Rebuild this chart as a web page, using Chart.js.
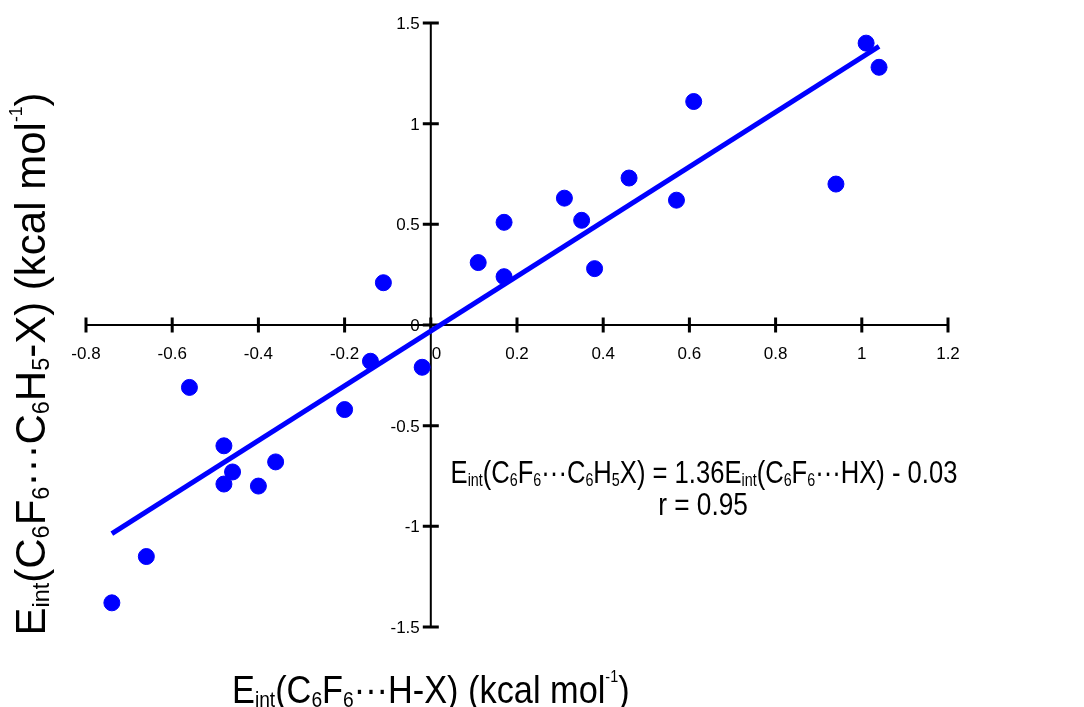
<!DOCTYPE html>
<html>
<head>
<meta charset="utf-8">
<title>Eint C6F6 complexes</title>
<script src="https://cdn.jsdelivr.net/npm/chart.js@4.4.0/dist/chart.umd.min.js"></script>
<style>
  html, body { margin: 0; padding: 0; background: #fff; }
  canvas { display: block; }
</style>
</head>
<body>
<canvas id="eint-chart" width="1084" height="707"></canvas>
<script>
// Interaction energies, kcal/mol: C6F6...H-X (x) against C6F6...C6H5-X (y)
var hxEnergy = [1.01, 1.04, 0.61, 0.94, 0.57, 0.46, 0.31, 0.35, 0.38, 0.17, 0.17, 0.11,
                -0.11, -0.14, -0.02, -0.20, -0.56, -0.48, -0.48, -0.46, -0.36, -0.40, -0.66, -0.74];
var phEnergy = [1.40, 1.28, 1.11, 0.70, 0.62, 0.73, 0.63, 0.52, 0.28, 0.51, 0.24, 0.31,
                0.21, -0.18, -0.21, -0.42, -0.31, -0.60, -0.79, -0.73, -0.68, -0.80, -1.15, -1.38];

// Least-squares fit as printed on the plot
var fitSlope = 1.36;
var fitIntercept = -0.03;
var fitR = 0.95;
var fitRange = [-0.74, 1.04];

var xTicks = [-0.8, -0.6, -0.4, -0.2, 0, 0.2, 0.4, 0.6, 0.8, 1, 1.2];
var xTickLabels = ['-0.8', '-0.6', '-0.4', '-0.2', '0', '0.2', '0.4', '0.6', '0.8', '1', '1.2'];
var yTicks = [-1.5, -1, -0.5, 0, 0.5, 1, 1.5];
var yTickLabels = ['-1.5', '-1', '-0.5', '0', '0.5', '1', '1.5'];

var FONT = '"Liberation Sans", Arial, Helvetica, sans-serif';
var BLUE = '#0000ff';
var TICK_FONT = 17;

// ── Rich text: [text, kind] where kind is '', 'sub' or 'sup' ──────────
function partSize(kind, size) {
  if (kind === 'sub') return size * 0.56;
  if (kind === 'sup') return size * 0.42;
  return size;
}
function partShift(kind, size) {
  if (kind === 'sub') return size * 0.09;
  if (kind === 'sup') return -size * 0.55;
  return 0;
}
function richWidth(ctx, parts, size) {
  var w = 0;
  parts.forEach(function (p) {
    ctx.font = partSize(p[1], size) + 'px ' + FONT;
    w += ctx.measureText(p[0]).width;
  });
  return w;
}
function drawRich(ctx, parts, size, x, y, o) {
  o = o || {};
  ctx.save();
  ctx.translate(x, y);
  if (o.rotate) ctx.rotate(o.rotate);
  ctx.scale(o.sx || 1, 1);
  var w = richWidth(ctx, parts, size);
  var cx = o.align === 'center' ? -w / 2 : o.align === 'right' ? -w : 0;
  ctx.fillStyle = '#000';
  ctx.textBaseline = 'alphabetic';
  ctx.textAlign = 'left';
  parts.forEach(function (p) {
    ctx.font = partSize(p[1], size) + 'px ' + FONT;
    ctx.fillText(p[0], cx, partShift(p[1], size));
    cx += ctx.measureText(p[0]).width;
  });
  ctx.restore();
}

var DOTS = '\u00b7\u00b7\u00b7';
var xTitle = [['E', ''], ['int', 'sub'], ['(C', ''], ['6', 'sub'], ['F', ''], ['6', 'sub'],
              [DOTS + 'H-X) (kcal mol', ''], ['-1', 'sup'], [')', '']];
var yTitle = [['E', ''], ['int', 'sub'], ['(C', ''], ['6', 'sub'], ['F', ''], ['6', 'sub'],
              [DOTS + 'C', ''], ['6', 'sub'], ['H', ''], ['5', 'sub'],
              ['-X) (kcal mol', ''], ['-1', 'sup'], [')', '']];
var fitLabel = [['E', ''], ['int', 'sub'], ['(C', ''], ['6', 'sub'], ['F', ''], ['6', 'sub'],
                [DOTS + 'C', ''], ['6', 'sub'], ['H', ''], ['5', 'sub'],
                ['X) = ' + fitSlope.toFixed(2) + 'E', ''], ['int', 'sub'], ['(C', ''], ['6', 'sub'],
                ['F', ''], ['6', 'sub'],
                [DOTS + 'HX) ' + (fitIntercept < 0 ? '- ' : '+ ') + Math.abs(fitIntercept).toFixed(2), '']];
var rLabel = [['r = ' + fitR.toFixed(2), '']];

// ── Axes crossing at the origin, ticks straddling the line ───────────
var crossAxes = {
  id: 'crossAxes',
  beforeDatasetsDraw: function (chart) {
    var ctx = chart.ctx;
    var xs = chart.scales.x, ys = chart.scales.y;
    var x0 = xs.getPixelForValue(0), y0 = ys.getPixelForValue(0);
    ctx.save();
    ctx.strokeStyle = '#000';
    ctx.lineWidth = 2;
    ctx.beginPath();
    ctx.moveTo(xs.getPixelForValue(xTicks[0]), y0);
    ctx.lineTo(xs.getPixelForValue(xTicks[xTicks.length - 1]), y0);
    ctx.moveTo(x0, ys.getPixelForValue(yTicks[0]));
    ctx.lineTo(x0, ys.getPixelForValue(yTicks[yTicks.length - 1]));
    ctx.stroke();
    ctx.lineWidth = 3;
    ctx.beginPath();
    xTicks.forEach(function (v) {
      var px = xs.getPixelForValue(v);
      ctx.moveTo(px, y0 - 7.5);
      ctx.lineTo(px, y0 + 7.5);
    });
    yTicks.forEach(function (v) {
      var py = ys.getPixelForValue(v);
      ctx.moveTo(x0 - 8, py);
      ctx.lineTo(x0 + 8, py);
    });
    ctx.stroke();
    ctx.restore();

    xTicks.forEach(function (v, i) {
      var px = xs.getPixelForValue(v);
      if (v === 0) drawRich(ctx, [[xTickLabels[i], '']], TICK_FONT, px + 1, y0 + 34, { align: 'left' });
      else drawRich(ctx, [[xTickLabels[i], '']], TICK_FONT, px, y0 + 34, { align: 'center' });
    });
    yTicks.forEach(function (v, i) {
      var py = ys.getPixelForValue(v);
      drawRich(ctx, [[yTickLabels[i], '']], TICK_FONT, x0 - 11, py + 6, { align: 'right' });
    });
  },
  afterDraw: function (chart) {
    var ctx = chart.ctx;
    var x0 = chart.scales.x.getPixelForValue(0);
    drawRich(ctx, xTitle, 39, x0, 703, { align: 'center', sx: 0.88 });
    drawRich(ctx, yTitle, 42, 45, 364, { align: 'center', rotate: -Math.PI / 2 });
    drawRich(ctx, fitLabel, 32, 704, 483, { align: 'center', sx: 0.8 });
    drawRich(ctx, rLabel, 32, 703, 515, { align: 'center', sx: 0.82 });
  }
};

var points = hxEnergy.map(function (x, i) { return { x: x, y: phEnergy[i] }; });
var fitLine = fitRange.map(function (x) { return { x: x, y: fitSlope * x + fitIntercept }; });

new Chart(document.getElementById('eint-chart'), {
  type: 'scatter',
  data: {
    datasets: [
      {
        data: fitLine,
        showLine: true,
        borderColor: BLUE,
        borderWidth: 5,
        pointRadius: 0,
        order: 2
      },
      {
        data: points,
        backgroundColor: BLUE,
        borderColor: BLUE,
        borderWidth: 1,
        pointRadius: 8,
        order: 1
      }
    ]
  },
  options: {
    responsive: false,
    animation: false,
    devicePixelRatio: 1,
    layout: { padding: { left: 86, right: 136, top: 23, bottom: 80 } },
    plugins: { legend: { display: false }, tooltip: { enabled: false } },
    scales: {
      x: { type: 'linear', min: -0.8, max: 1.2, display: false },
      y: { type: 'linear', min: -1.5, max: 1.5, display: false }
    },
    elements: { line: { tension: 0 } }
  },
  plugins: [crossAxes]
});
</script>
</body>
</html>
